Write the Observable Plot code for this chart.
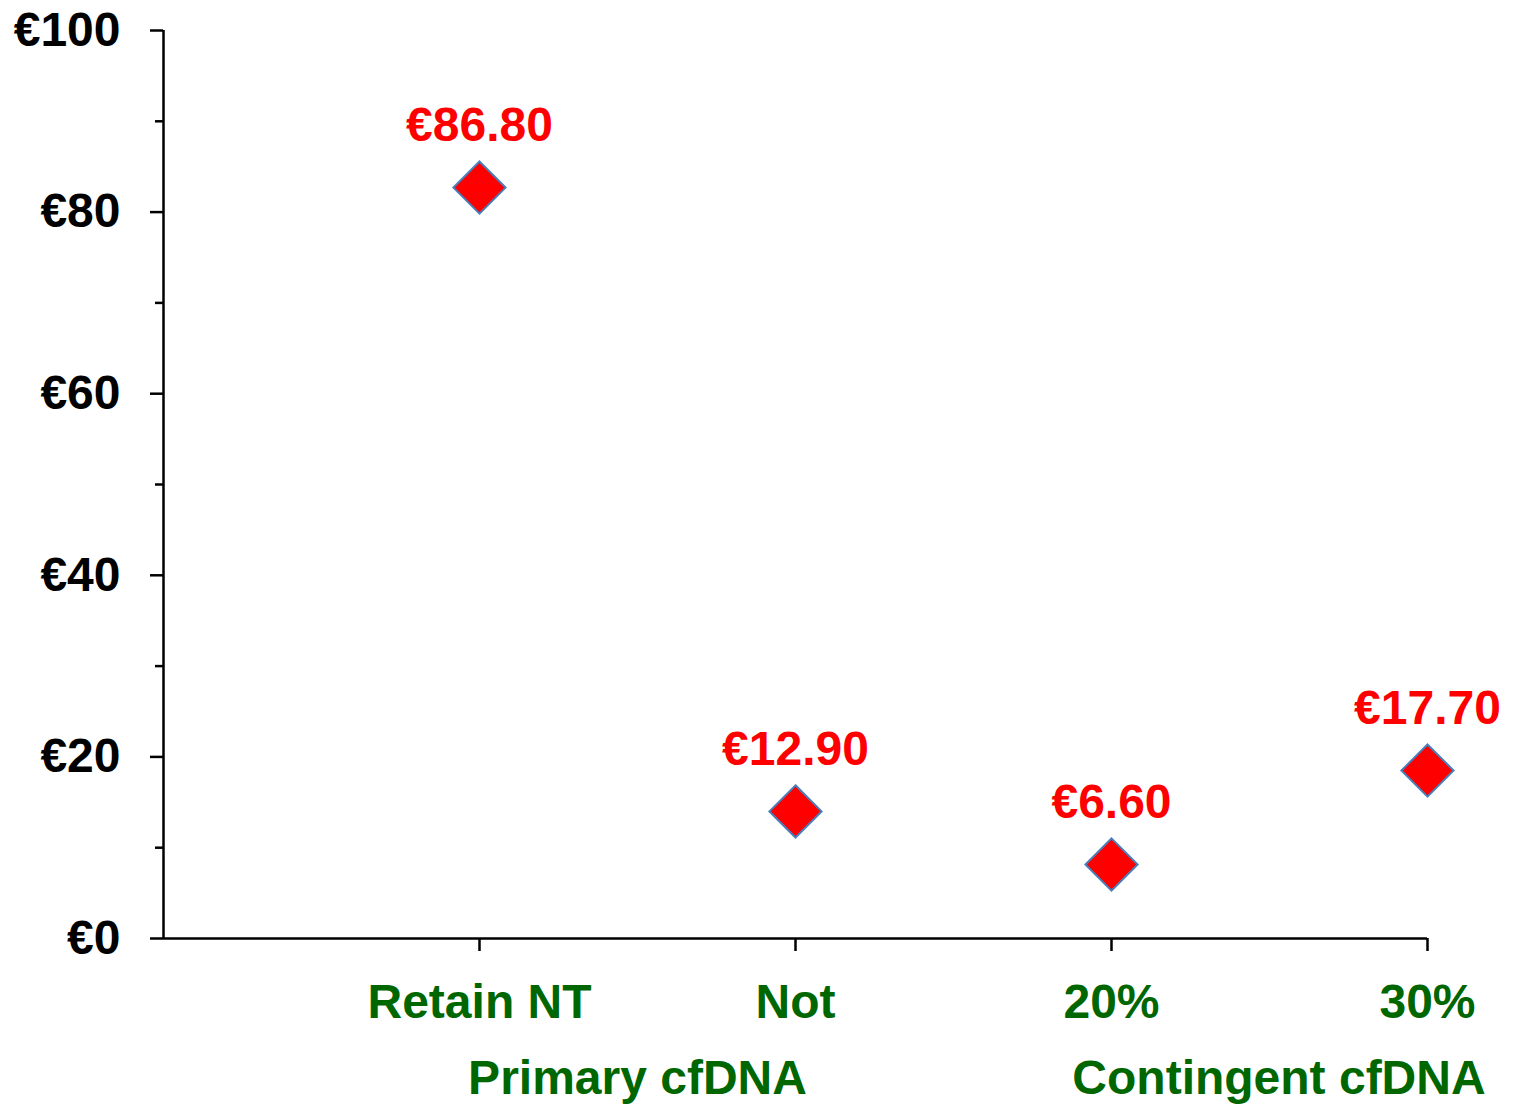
<!DOCTYPE html>
<html>
<head>
<meta charset="utf-8">
<script src="https://cdn.jsdelivr.net/npm/d3@7"></script>
<script src="https://cdn.jsdelivr.net/npm/@observablehq/plot@0.6"></script>
<style>
  html, body { margin: 0; padding: 0; background: #fff; }
  #chart svg { display: block; }
</style>
</head>
<body>
<div id="chart"></div>
<script>
// Data
const categories = ["Retain NT", "Not", "20%", "30%"];
const positions = [1, 2, 3, 4];
const values = [82.7, 14.0, 8.15, 18.5];
const valueLabels = ["€86.80", "€12.90", "€6.60", "€17.70"];
const groupLabels = ["Primary cfDNA", "Contingent cfDNA"];
const groupCenters = [1.5, 3.53];
const yMajorTicks = [0, 20, 40, 60, 80, 100];
const yMinorTicks = [10, 30, 50, 70, 90];

const points = categories.map((c, i) => ({cat: c, x: positions[i], y: values[i], label: valueLabels[i]}));
const groups = groupLabels.map((g, i) => ({label: g, x: groupCenters[i]}));

const font = "'Liberation Sans', Arial, sans-serif";
const green = "#006600";

const chart = Plot.plot({
  width: 1516,
  height: 1106,
  marginLeft: 163,
  marginRight: 89,
  marginTop: 30,
  marginBottom: 168,
  style: {fontFamily: font, fontWeight: "bold", background: "#fff", overflow: "visible"},
  x: {domain: [0, 4]},
  y: {domain: [0, 100]},
  marks: [
    Plot.axisY({ticks: yMinorTicks, tickSize: 8, text: null, strokeWidth: 2.5, label: null}),
    Plot.axisY({
      ticks: yMajorTicks, tickSize: 13, tickPadding: 30, strokeWidth: 2.5,
      tickFormat: d => "€" + d, fontSize: 48, fontWeight: "bold", fill: "black", label: null
    }),
    Plot.axisX({
      ticks: positions, tickSize: 13, tickPadding: 32, strokeWidth: 2.5,
      tickFormat: d => categories[positions.indexOf(d)], fontSize: 48, fontWeight: "bold",
      fill: green, label: null
    }),
    Plot.ruleX([0], {strokeWidth: 2.5}),
    Plot.ruleY([0], {strokeWidth: 2.5}),
    Plot.text(groups, {
      x: "x", y: () => 0, text: "label", dy: 140, fontSize: 48, fontWeight: "bold",
      fill: green, lineAnchor: "middle"
    }),
    Plot.dot(points, {
      x: "x", y: "y", symbol: "diamond2", r: 23.5, fill: "#ff0000",
      stroke: "#4a7ebb", strokeWidth: 2
    }),
    Plot.text(points, {
      x: "x", y: "y", text: "label", dy: -62, fontSize: 48, fontWeight: "bold",
      fill: "#ff0000", lineAnchor: "middle"
    })
  ]
});
document.getElementById("chart").appendChild(chart);
</script>
</body>
</html>
